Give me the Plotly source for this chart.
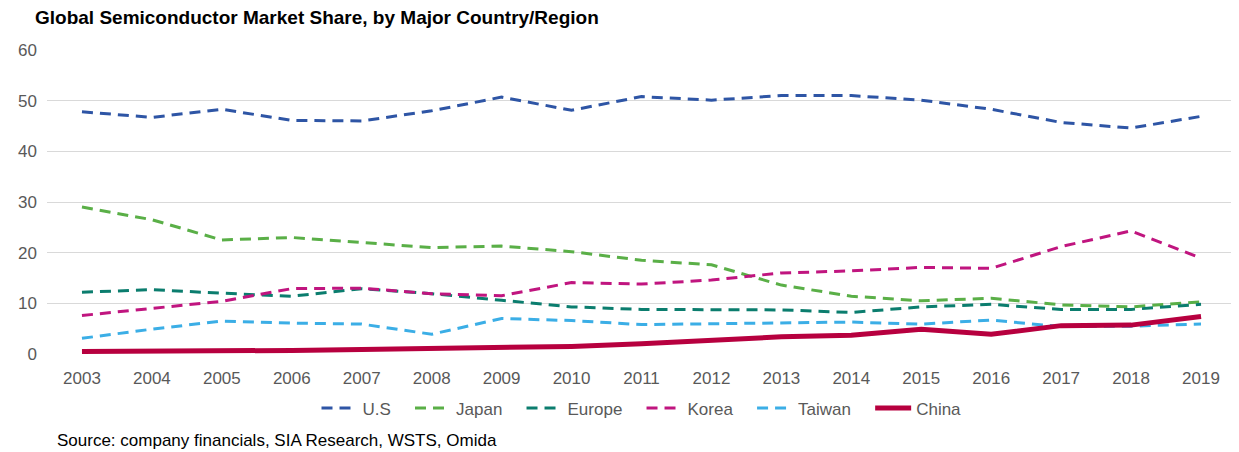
import plotly.graph_objects as go

years = list(range(2003, 2020))
us =     [47.8, 46.7, 48.3, 46.1, 46.0, 48.0, 50.7, 48.1, 50.8, 50.1, 51.0, 51.0, 50.1, 48.3, 45.7, 44.6, 46.9]
japan =  [29.0, 26.5, 22.5, 23.0, 22.0, 21.0, 21.3, 20.2, 18.5, 17.6, 13.6, 11.4, 10.5, 11.0, 9.7, 9.3, 10.3]
europe = [12.2, 12.7, 12.0, 11.4, 12.9, 11.9, 10.6, 9.3, 8.8, 8.7, 8.7, 8.2, 9.3, 9.8, 8.8, 8.8, 9.8]
korea =  [7.6, 9.0, 10.4, 12.9, 13.0, 11.9, 11.5, 14.1, 13.8, 14.6, 16.0, 16.4, 17.1, 16.9, 21.2, 24.3, 18.9]
taiwan = [3.1, 4.9, 6.5, 6.1, 5.9, 3.9, 7.0, 6.6, 5.8, 6.0, 6.1, 6.3, 5.9, 6.7, 5.4, 5.5, 5.9]
china =  [0.5, 0.5, 0.5, 0.7, 0.9, 1.1, 1.3, 1.5, 2.0, 2.6, 3.4, 3.7, 4.9, 3.9, 5.6, 5.7, 7.4]

names = ["U.S", "Japan", "Europe", "Korea", "Taiwan", "China"]
series = [us, japan, europe, korea, taiwan, china]
colors = ["#2E55A5", "#5AAF47", "#0B7D6E", "#C0157F", "#3BAEE6", "#B7003F"]

FONT = "Liberation Sans, Arial, sans-serif"
PAD = "\u00a0\u00a0\u00a0"

# The page body has an 8px default margin, so the figure is sized to fit the window.
W, H = 1231, 444

fig = go.Figure()
for i, (name, vals, col) in enumerate(zip(names, series, colors)):
    if name == "China":
        line = dict(color=col, width=5)
    else:
        line = dict(color=col, width=3, dash="11px,7px")
    label = name if i == len(names) - 1 else name + PAD
    fig.add_trace(go.Scatter(x=years, y=vals, mode="lines", name=label, line=line))

fig.update_layout(
    width=W, height=H,
    margin=dict(l=39, r=3, t=42, b=98),
    paper_bgcolor="white", plot_bgcolor="white",
    font=dict(family=FONT, size=17, color="#595959"),
    title=dict(text="Global Semiconductor Market Share, by Major Country/Region",
               x=27 / W, xanchor="left", xref="container",
               y=0.994, yanchor="top", yref="container",
               font=dict(family=FONT, size=19, color="#000000", weight="bold")),
    showlegend=True,
    legend=dict(orientation="h", x=0.5, xanchor="center", y=-0.12, yanchor="top",
                font=dict(family=FONT, size=17, color="#595959"),
                itemwidth=36, traceorder="normal"),
    annotations=[dict(text="Source: company financials, SIA Research, WSTS, Omida",
                      xref="paper", yref="paper", x=0.0067, y=-0.286,
                      xanchor="left", yanchor="middle",
                      showarrow=False, font=dict(family=FONT, size=17, color="#000000"))],
)
fig.update_xaxes(range=[2002.5, 2019.5], tickmode="array", tickvals=years,
                 ticktext=[str(y) for y in years], showgrid=False, zeroline=False,
                 showline=False, ticks="", ticklabelstandoff=12)
fig.update_yaxes(range=[0, 60], tickvals=[0, 10, 20, 30, 40, 50, 60], showgrid=True,
                 gridcolor="#D9D9D9", gridwidth=1, zeroline=False, ticks="",
                 ticklabelstandoff=9)

fig.write_html("out.html")
